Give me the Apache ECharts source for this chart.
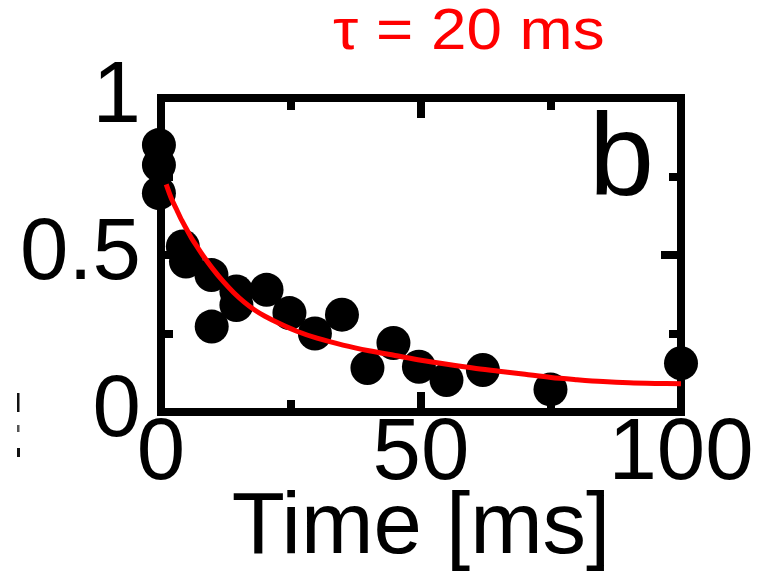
<!DOCTYPE html>
<html>
<head>
<meta charset="utf-8">
<title>Decay, τ = 20 ms</title>
<script src="https://cdn.jsdelivr.net/npm/echarts@6/dist/echarts.min.js"></script>
<style>
  html, body { margin: 0; padding: 0; background: #fff; }
  #chart { width: 761px; height: 579px; }
</style>
</head>
<body>
<div id="chart"></div>
<script>
// measured points: time [ms] and value
const timeMs = [-0.4, -0.4, -0.4, 4.2, 4.8, 9.7, 9.75, 14.5, 14.5, 20.3, 24.7, 29.6, 34.8, 39.7, 44.7, 49.6, 54.9, 61.9, 74.9, 100];
const values = [0.85, 0.787, 0.697, 0.527, 0.479, 0.436, 0.272, 0.384, 0.341, 0.389, 0.315, 0.25, 0.31, 0.14, 0.22, 0.144, 0.102, 0.134, 0.072, 0.155];

// fitted decay curve (τ = 20 ms)
const fitTime = [1, 2, 3, 4, 5, 6, 7, 8, 10, 12, 14, 16, 18, 20, 23, 26, 30, 35, 40, 45, 50, 55, 60, 65, 70, 75, 80, 85, 90, 95, 100];
const fitValue = [0.725, 0.68, 0.645, 0.61, 0.58, 0.55, 0.525, 0.5, 0.455, 0.415, 0.38, 0.35, 0.325, 0.305, 0.28, 0.258, 0.235, 0.213, 0.195, 0.18, 0.165, 0.152, 0.14, 0.13, 0.12, 0.11, 0.103, 0.097, 0.093, 0.091, 0.09];

// axis ticks
const xTicks = [0, 50, 100];
const yTicks = [0, 0.5, 1];
const yTickText = { 0: '0', 0.5: '0.5', 1: '1' };

const FONT = '"Liberation Sans", Arial, Helvetica, sans-serif';
const frameLine = { show: true, onZero: false, lineStyle: { color: '#000', width: 8, cap: 'square' } };
const majorTick = { show: true, inside: true, length: 20, lineStyle: { color: '#000', width: 8 } };
const minorTick = { show: true, splitNumber: 2, length: 12, lineStyle: { color: '#000', width: 8 } };

const chart = echarts.init(document.getElementById('chart'), null, { renderer: 'canvas' });

chart.setOption({
  animation: false,
  backgroundColor: '#fff',
  grid: { left: 161, right: 80, top: 98, bottom: 167, containLabel: false, outerBoundsMode: 'none' },
  xAxis: [
    {
      type: 'value', position: 'bottom', min: xTicks[0], max: xTicks[xTicks.length - 1], interval: 50,
      axisLine: frameLine, axisTick: majorTick, minorTick: minorTick, splitLine: { show: false },
      axisLabel: { show: true, margin: 0, color: '#000', fontSize: 87, fontFamily: FONT },
      name: 'Time [ms]', nameLocation: 'middle', nameGap: 74, nameMoveOverlap: false,
      nameTextStyle: { color: '#000', fontSize: 87, fontFamily: FONT, verticalAlign: 'top' }
    },
    {
      type: 'value', position: 'top', min: xTicks[0], max: xTicks[xTicks.length - 1], interval: 50,
      axisLine: frameLine, axisTick: majorTick, minorTick: minorTick, splitLine: { show: false },
      axisLabel: { show: false }
    }
  ],
  yAxis: [
    {
      type: 'value', position: 'left', min: yTicks[0], max: yTicks[yTicks.length - 1], interval: 0.5,
      axisLine: frameLine, axisTick: majorTick, minorTick: minorTick, splitLine: { show: false },
      axisLabel: {
        show: true, margin: 20, color: '#000', fontSize: 87, fontFamily: FONT,
        formatter: v => yTickText[v] !== undefined ? yTickText[v] : ''
      }
    },
    {
      type: 'value', position: 'right', min: yTicks[0], max: yTicks[yTicks.length - 1], interval: 0.5,
      axisLine: frameLine, axisTick: majorTick, minorTick: minorTick, splitLine: { show: false },
      axisLabel: { show: false }
    }
  ],
  series: [
    {
      type: 'scatter', xAxisIndex: 0, yAxisIndex: 0, clip: false,
      symbol: 'circle', symbolSize: 34,
      itemStyle: { color: '#000', opacity: 1 },
      data: timeMs.map((t, i) => [t, values[i]]),
      z: 2
    },
    {
      type: 'line', xAxisIndex: 0, yAxisIndex: 0, smooth: 0.3,
      showSymbol: false, symbol: 'none',
      lineStyle: { color: '#ff0000', width: 5 },
      data: fitTime.map((t, i) => [t, fitValue[i]]),
      z: 3
    }
  ],
  graphic: [
    {
      type: 'text', left: 333, top: 4, scaleX: 1.1, originX: 0,
      style: { text: 'τ = 20 ms', fill: '#ff0000', font: '58px ' + FONT }
    },
    {
      type: 'text', x: 589, y: 163,
      style: { text: 'b', fill: '#000', font: '117px ' + FONT, textVerticalAlign: 'middle' },
      z: 10
    },
    { type: 'rect', shape: { x: 17, y: 393, width: 2.5, height: 19 }, style: { fill: '#111' } },
    { type: 'rect', shape: { x: 17, y: 425, width: 2.5, height: 7 }, style: { fill: '#555' } },
    { type: 'rect', shape: { x: 17, y: 448, width: 3, height: 9 }, style: { fill: '#111' } }
  ]
});
</script>
</body>
</html>
